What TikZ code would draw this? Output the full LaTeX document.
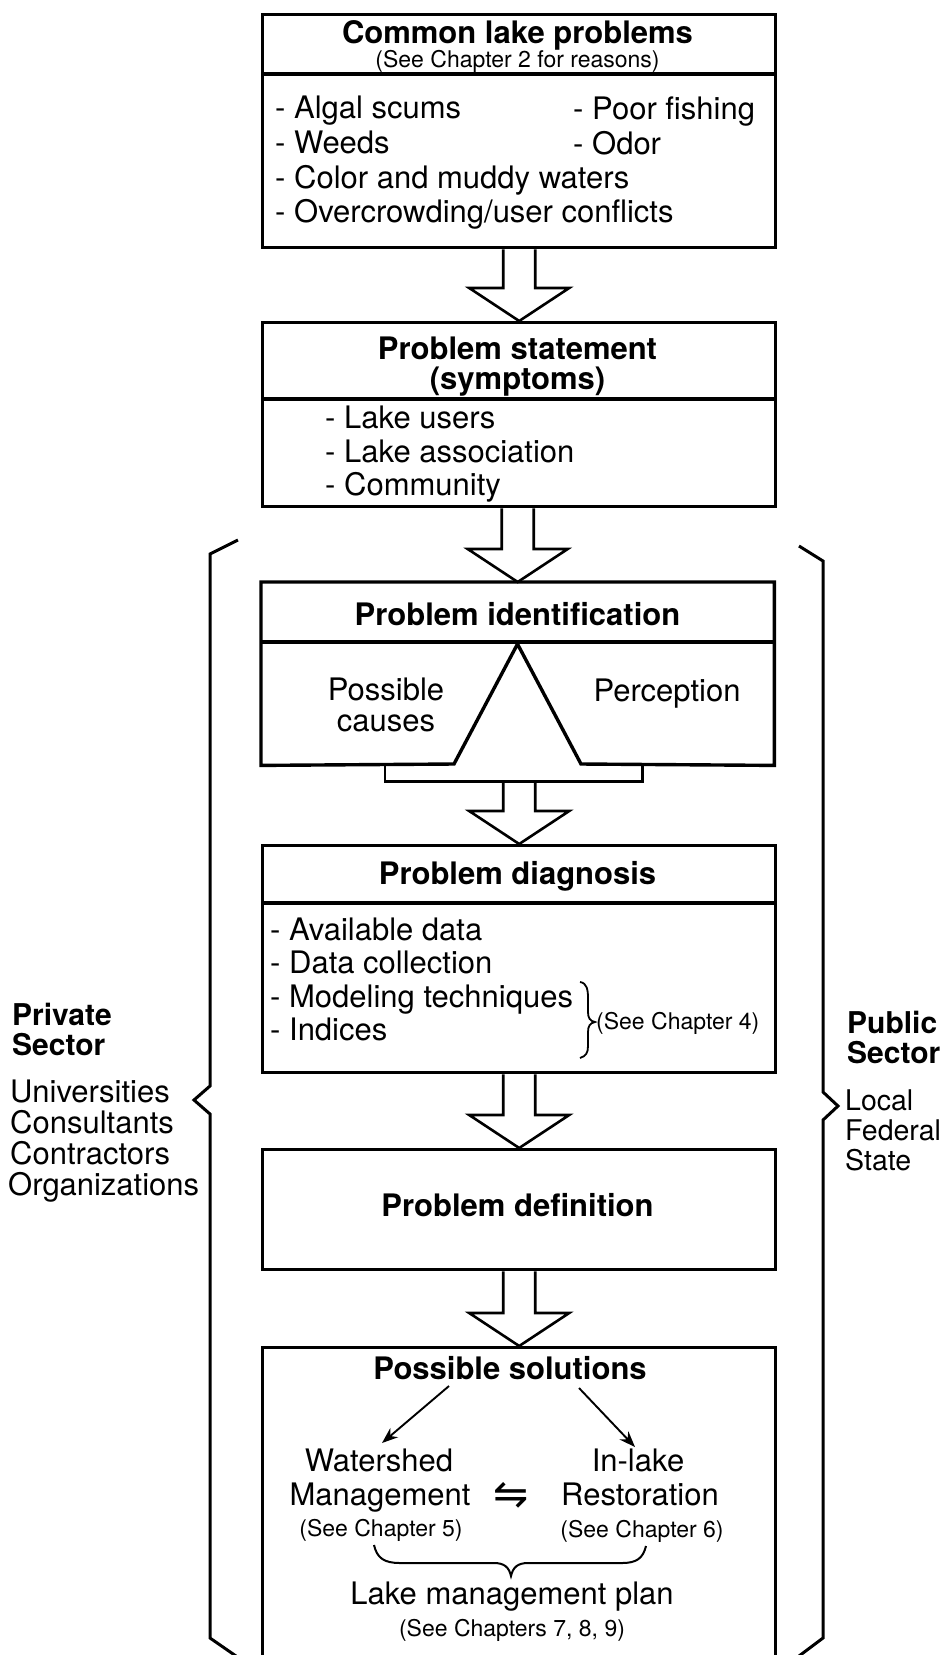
\documentclass[tikz,border=0pt]{standalone}
\usepackage{fontspec}
\setmainfont{TeX Gyre Heros}
\newfontfamily\symfont{DejaVu Sans}
\usetikzlibrary{calc,arrows.meta}
\newcommand{\blockarrow}[2]{\draw[bigarr] let \p1=(#1.south), \p2=(#2.north) in
  (\x2-16pt,\y1) -- (\x2-16pt,\y2+33pt) -- (\x2-50pt,\y2+33pt) -- (\x2,\y2) --
  (\x2+50pt,\y2+33pt) -- (\x2+16pt,\y2+33pt) -- (\x2+16pt,\y1);}
\begin{document}
\begin{tikzpicture}[x=1pt,y=-1pt,
  box/.style={draw,line width=3.4pt,inner sep=0pt,anchor=north west,minimum width=513pt},
  divl/.style={line width=3.2pt},
  bigarr/.style={draw,line width=2.6pt,line join=miter},
  brc/.style={line width=3pt,line join=miter},
  txt/.style={font=\fontsize{31}{34}\selectfont,inner sep=0pt,anchor=base west},
  rtxt/.style={font=\fontsize{28.5}{34}\selectfont,inner sep=0pt,anchor=base west},
  ctxt/.style={font=\fontsize{31}{34}\selectfont,inner sep=0pt,anchor=base},
  btxt/.style={font=\fontsize{31}{34}\selectfont\bfseries,inner sep=0pt,anchor=base},
  bltxt/.style={font=\fontsize{30}{34}\selectfont\bfseries,inner sep=0pt,anchor=base west},
  stxt/.style={font=\fontsize{23}{26}\selectfont,inner sep=0pt,anchor=base},
  sarr/.style={line width=1.9pt,-{Stealth[length=16pt,width=12pt]}},
]
\useasboundingbox (0,0) rectangle (948,1655);
\clip (0,0) rectangle (948,1655);

% ---------- boxes ----------
\node[box,minimum height=233pt] (b1) at (261,13) {};
\draw[divl] (261,74) -- (774,74);
\node[box,minimum height=184pt] (b2) at (261,321) {};
\draw[divl] (261,399) -- (774,399);
\node[inner sep=0pt,anchor=north west,minimum width=513pt,minimum height=183pt] (b3) at (261,582) {};
\draw[line width=3.4pt,line join=miter] (b3.south west) -- (b3.north west) -- (b3.north east) -- (b3.south east)
  -- (581,764) -- (517.5,644) -- (454,764) -- cycle;
\draw[divl] (261,642) -- (774,642);
\node[inner sep=0pt,anchor=north west,minimum width=257pt,minimum height=17pt] (tab) at (385,764) {};
\draw[line width=2.4pt] (tab.north west) -- (tab.south west) -- (tab.south east) -- (tab.north east);
\node[box,minimum height=227pt] (b4) at (261,844) {};
\draw[divl] (261,903) -- (774,903);
\node[box,minimum height=120pt] (b5) at (261,1148) {};
\node[box,minimum height=360pt] (b6) at (261,1346) {};

% ---------- block arrows ----------
\blockarrow{b1}{b2}
\blockarrow{b2}{b3}
\blockarrow{tab}{b4}
\blockarrow{b4}{b5}
\blockarrow{b5}{b6}

% ---------- box 1 ----------
\node[btxt] (t1) at (517.5,43) {Common lake problems};
\node[stxt] (s1) at (517.5,67) {(See Chapter 2 for reasons)};
\node[txt] (i11) at (275,118) {- Algal scums};
\node[txt] (i12) at (275,153) {- Weeds};
\node[txt] (i13) at (275,188) {- Color and muddy waters};
\node[txt] (i14) at (275,222) {- Overcrowding/user conflicts};
\node[txt] (i15) at (573,119) {- Poor fishing};
\node[txt] (i16) at (573,154) {- Odor};

% ---------- box 2 ----------
\node[btxt] (t2) at (517.5,359) {Problem statement};
\node[btxt] (t2b) at (517.5,389) {(symptoms)};
\node[txt] (i21) at (325,428) {- Lake users};
\node[txt] (i22) at (325,462) {- Lake association};
\node[txt] (i23) at (325,495) {- Community};

% ---------- box 3 ----------
\node[btxt] (t3) at (517.5,625) {Problem identification};
\node[ctxt] (pc1) at (386,700) {Possible};
\node[ctxt] (pc2) at (386,731) {causes};
\node[ctxt] (pe) at (667,701) {Perception};

% ---------- box 4 ----------
\node[btxt] (t4) at (517.5,884) {Problem diagnosis};
\node[txt] (i41) at (270,940) {- Available data};
\node[txt] (i42) at (270,973) {- Data collection};
\node[txt] (i43) at (270,1007) {- Modeling techniques};
\node[txt] (i44) at (270,1040) {- Indices};
\draw[line width=1.8pt] (580,982) .. controls (587,983) and (588,990) .. (588,998) -- (588,1012)
  .. controls (588,1018) and (590,1021) .. (595,1022)
  .. controls (590,1023) and (588,1026) .. (588,1032) -- (588,1046)
  .. controls (588,1053) and (586,1056) .. (580,1058);
\node[stxt,anchor=base west] (c4) at (596,1029) {(See Chapter 4)};

% ---------- box 5 ----------
\node[btxt] (t5) at (517.5,1216) {Problem definition};

% ---------- box 6 ----------
\node[btxt] (t6) at (510,1379) {Possible solutions};
\node[ctxt] (w1) at (379,1471) {Watershed};
\node[ctxt] (w2) at (380,1505) {Management};
\node[stxt] (w3) at (381,1536) {(See Chapter 5)};
\node[ctxt] (r1) at (638,1471) {In-lake};
\node[ctxt] (r2) at (640,1505) {Restoration};
\node[stxt] (r3) at (642,1537) {(See Chapter 6)};
\node[inner sep=0pt,font=\symfont\fontsize{42}{42}\selectfont] (hp) at (511,1495) {⇋};
\coordinate (aL1) at (449,1386);
\coordinate (aL2) at (382,1443);
\coordinate (aR1) at (579,1388);
\coordinate (aR2) at (635,1447);
\draw[sarr] (aL1) -- (aL2);
\draw[sarr] (aR1) -- (aR2);
\draw[line width=2pt] (374,1545) .. controls (377,1558) and (384,1563) .. (400,1563) -- (494,1563)
  .. controls (504,1563) and (509,1567) .. (511,1576)
  .. controls (513,1567) and (518,1563) .. (528,1563) -- (622,1563)
  .. controls (637,1563) and (643,1558) .. (646,1546);
\node[ctxt] (lm) at (512,1604) {Lake management plan};
\node[stxt] (lm2) at (512,1636) {(See Chapters 7, 8, 9)};

% ---------- side braces ----------
\draw[brc] (238,540) -- (210,554) -- (210,1086) -- (194,1100) -- (210,1114) -- (210,1638) -- (236,1656);
\draw[brc] (799,546) -- (823,561) -- (823,1092) -- (838,1106) -- (823,1120) -- (823,1638) -- (799,1656);

% ---------- side labels ----------
\node[bltxt] (pv1) at (12,1025) {Private};
\node[bltxt] (pv2) at (12,1055) {Sector};
\node[txt] (pv3) at (10,1102) {Universities};
\node[txt] (pv4) at (10,1133) {Consultants};
\node[txt] (pv5) at (10,1164) {Contractors};
\node[txt] (pv6) at (8,1195) {Organizations};
\node[bltxt] (pu1) at (847,1033) {Public};
\node[bltxt] (pu2) at (847,1063) {Sector};
\node[rtxt] (pu3) at (845,1110) {Local};
\node[rtxt] (pu4) at (845,1140) {Federal};
\node[rtxt] (pu5) at (845,1170) {State};
\end{tikzpicture}
\end{document}
